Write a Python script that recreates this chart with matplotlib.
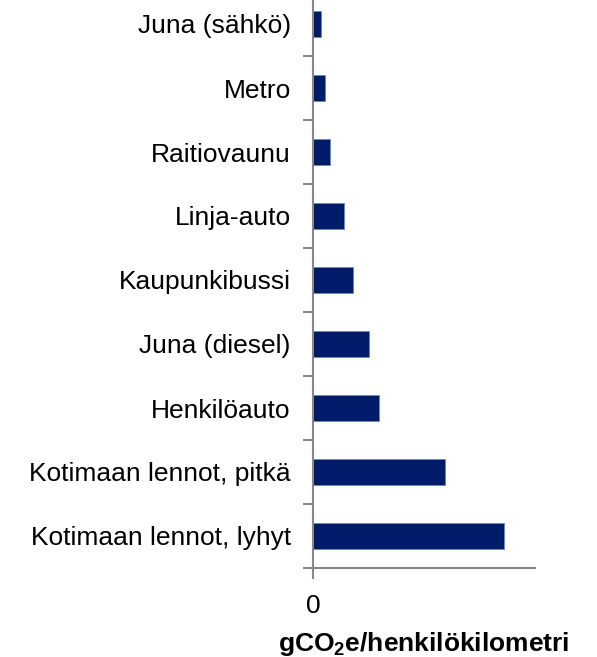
import matplotlib
matplotlib.use("Agg")
import matplotlib.pyplot as plt

categories = ["Kotimaan lennot, lyhyt", "Kotimaan lennot, pitkä", "Henkilöauto",
              "Juna (diesel)", "Kaupunkibussi", "Linja-auto", "Raitiovaunu",
              "Metro", "Juna (sähkö)"]
values = [191, 131.5, 65.5, 56, 39.5, 30.5, 16.5, 12, 7.5]
x_ticks = [0]
x_ticklabels = ["0"]

plt.rcParams['font.family'] = ['Liberation Sans', 'DejaVu Sans']
plt.rcParams['mathtext.fontset'] = 'custom'
plt.rcParams['mathtext.bf'] = 'Liberation Sans:bold'
plt.rcParams['mathtext.rm'] = 'Liberation Sans'

fig = plt.figure(figsize=(5.97, 6.57), dpi=100)
ax = fig.add_axes([313/597, 1 - 568/657, 222/597, 568/657])

pos = list(range(len(categories)))
ax.barh(pos, values, height=0.41, color='#001C68', edgecolor='#6B86C0', linewidth=0.6)

ax.set_xlim(0, 222)
ax.set_ylim(-0.5, 8.375)
ax.set_yticks(pos)
ax.set_yticklabels(categories, fontsize=19)
ax.set_yticks([p + 0.5 for p in pos[:-1]] + [-0.5], minor=True)
ax.tick_params(axis='y', which='major', length=0, pad=16)
ax.tick_params(axis='y', which='minor', length=7, width=1.5, color='#878787', direction='out')

ax.set_xticks(x_ticks)
ax.set_xticklabels(x_ticklabels, fontsize=19)
ax.tick_params(axis='x', length=8, width=1.5, color='#878787', pad=11)

for s in ['top', 'right']:
    ax.spines[s].set_visible(False)
for s in ['left', 'bottom']:
    ax.spines[s].set_color('#878787')
    ax.spines[s].set_linewidth(1.5)

ax.set_xlabel(r'gCO$_\mathbf{2}$e/henkilökilometri', fontsize=19, fontweight='bold', labelpad=8)

fig.savefig("out.png", dpi=100)
